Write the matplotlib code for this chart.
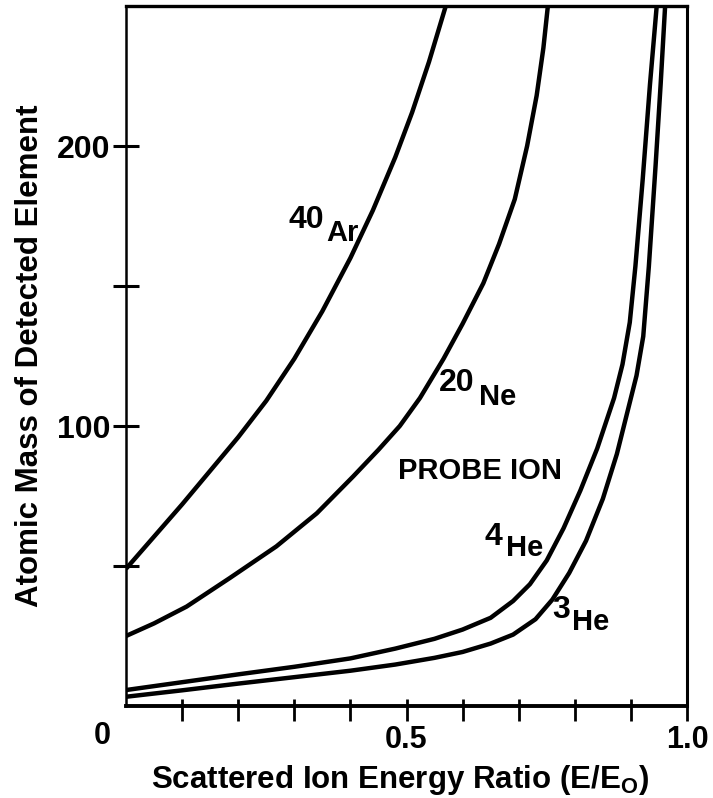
import numpy as np
import matplotlib
matplotlib.use("Agg")
import matplotlib.pyplot as plt

plt.rcParams['font.family'] = ['Liberation Sans', 'DejaVu Sans']
plt.rcParams['font.weight'] = 'bold'
plt.rcParams['mathtext.fontset'] = 'custom'
plt.rcParams['mathtext.rm'] = 'Liberation Sans:bold'

# curves: E/E0 vs atomic mass of detected element
ar_x = [0, 0.05, 0.10, 0.15, 0.20, 0.25, 0.30, 0.35, 0.40, 0.44, 0.48, 0.51, 0.54, 0.57]
ar_y = [49, 60.5, 72, 84, 96, 109, 124, 141, 160, 177, 196, 212, 230, 250]

ne_x = [0, 0.05, 0.108, 0.185, 0.268, 0.340, 0.405, 0.45, 0.488, 0.524, 0.566, 0.60,
        0.637, 0.665, 0.693, 0.715, 0.732, 0.744, 0.752]
ne_y = [25, 29.5, 35.5, 45.7, 57, 68.8, 82, 91.5, 100, 110, 124, 136.5,
        151, 165, 181, 200, 218, 235, 250]

he4_x = [0, 0.10, 0.20, 0.30, 0.40, 0.48, 0.55, 0.60, 0.65, 0.69, 0.72, 0.75, 0.78,
         0.81, 0.84, 0.87, 0.885, 0.898, 0.908, 0.921, 0.934, 0.946]
he4_y = [5.7, 8.5, 11.3, 14.0, 17.0, 20.5, 24.0, 27.3, 31.5, 37.5, 43.5, 52, 63.5,
         77, 92, 110, 122, 137, 157, 188, 222, 250]

he3_x = [0, 0.10, 0.20, 0.30, 0.40, 0.48, 0.55, 0.60, 0.65, 0.69, 0.73, 0.76, 0.79,
         0.82, 0.85, 0.875, 0.895, 0.91, 0.922, 0.932, 0.944, 0.953, 0.961]
he3_y = [3.3, 5.6, 8.0, 10.3, 12.6, 14.8, 17.2, 19.3, 22.3, 25.5, 31, 38, 47.5,
         59, 74, 90, 106, 118, 132, 157, 193, 222, 250]

xticks = [0.1, 0.2, 0.3, 0.4, 0.5, 0.6, 0.7, 0.8, 0.9, 1.0]
xticklabels = ['', '', '', '', '0.5', '', '', '', '', '1.0']
yticks = [50, 100, 150, 200]
yticklabels = ['', '100', '', '200']

fig = plt.figure(figsize=(7.13, 7.98), dpi=100)
ax = fig.add_axes([126/713, 92/798, 561/713, 700/798])

for xs, ys in [(ar_x, ar_y), (ne_x, ne_y), (he4_x, he4_y), (he3_x, he3_y)]:
    ax.plot(xs, ys, color='black', lw=3.2, solid_joinstyle='round', solid_capstyle='butt')

ax.set_xlim(0, 1.0)
ax.set_ylim(0, 250)

for side, w in [('left', 1.8), ('right', 2.2), ('top', 2.4), ('bottom', 2.8)]:
    ax.spines[side].set_linewidth(w)

ax.set_xticks(xticks)
ax.set_xticklabels(xticklabels)
ax.set_xticks(xticks, minor=True)
ax.xaxis.remove_overlapping_locs = False
ax.tick_params(axis='x', which='major', direction='out', length=11, width=2.0,
               labelsize=22, pad=3)
ax.tick_params(axis='x', which='minor', direction='in', length=5, width=2.0)

ax.set_yticks(yticks)
ax.set_yticklabels(yticklabels)
ax.tick_params(axis='y', which='major', direction='inout', length=19, width=2.2,
               labelsize=23, pad=2)

ax.text(-0.043, -10.7, '0', ha='center', va='center', fontsize=22,
        fontweight='bold', clip_on=False)

ax.set_xlabel('Scattered Ion Energy Ratio (E/E$_\\mathrm{O}$)', fontsize=22.5,
              fontweight='bold', va='baseline')
ax.xaxis.set_label_coords(0.488, -0.117)
ax.set_ylabel('Atomic Mass of Detected Element', fontsize=22.5,
              fontweight='bold', va='baseline')
ax.yaxis.set_label_coords(-0.157, 0.5)

lab = dict(fontsize=21, fontweight='bold', ha='center', va='center')
num = dict(fontsize=23, fontweight='bold', ha='center', va='center')
ax.text(0.322, 173.6, '40', **num)
ax.text(0.386, 169, 'Ar', **lab)
ax.text(0.589, 115.4, '20', **num)
ax.text(0.662, 110.2, 'Ne', **lab)
ax.text(0.631, 83.9, 'PROBE ION', **lab)
ax.text(0.654, 60.4, '4', **num)
ax.text(0.710, 56.4, 'He', **lab)
ax.text(0.775, 34.3, '3', **num)
ax.text(0.829, 30.0, 'He', **lab)

fig.savefig('out.png', dpi=100)
